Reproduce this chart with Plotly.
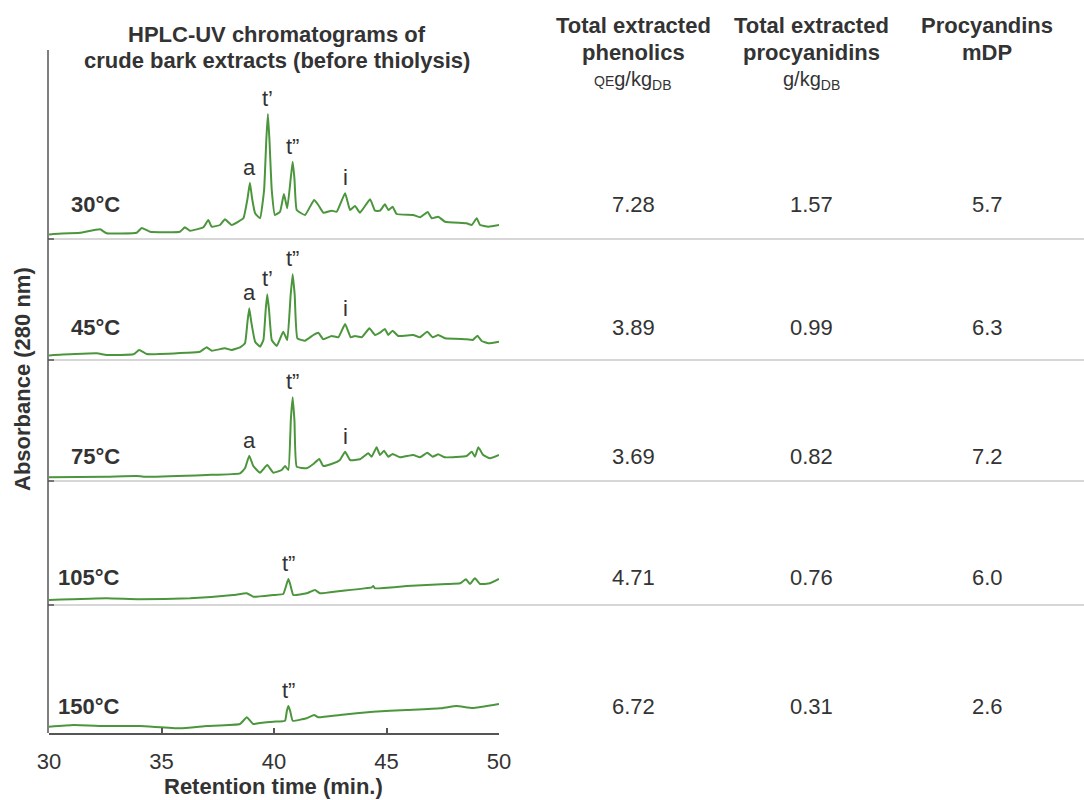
import plotly.graph_objects as go

# ---------------- data ----------------
temperatures = ["30°C", "45°C", "75°C", "105°C", "150°C"]

t_30 = [30.0, 30.19, 31.38, 32.27, 32.56, 33.9, 34.12, 34.49, 35.82, 36.04, 36.27, 36.86, 37.08, 37.23,
        37.6, 37.82, 38.12, 38.41, 38.64, 38.82, 38.93, 39.03, 39.16, 39.38, 39.56, 39.66, 39.73, 39.8,
        39.9, 40.04, 40.27, 40.44, 40.59, 40.74, 40.83, 40.91, 41.01, 41.38, 41.78, 41.97, 42.19, 42.56,
        42.79, 43.16, 43.38, 43.6, 43.82, 44.27, 44.49, 44.71, 44.93, 45.08, 45.27, 45.45, 46.19, 46.49,
        46.83, 47.01, 47.3, 47.6, 48.56, 48.79, 49.01, 49.16, 49.53, 50.0]
a_30 = [4.5, 5, 6.3, 9.7, 5.7, 6.3, 11, 7.3, 7.3, 11.7, 8.3, 11.7, 19, 12.3,
        14, 19.7, 14, 17.3, 20.7, 40, 56.3, 40, 25.7, 20.7, 49, 100, 125, 98,
        49, 24, 27.3, 45, 30.7, 60, 77.3, 60, 29, 24, 39, 34, 26.3, 28.3,
        27.3, 45.7, 29, 33, 26.3, 39.7, 28.3, 28.3, 34.7, 29, 32.3, 25, 24, 21.7,
        27, 20.7, 22.3, 17.3, 15.7, 14, 20.7, 14, 12.3, 14]

t_45 = [30.0, 30.19, 32.12, 32.56, 33.75, 34.01, 34.34, 36.12, 36.71, 37.01, 37.23, 37.82, 38.12, 38.49,
        38.71, 38.82, 38.9, 38.99, 39.16, 39.38, 39.53, 39.63, 39.7, 39.78, 39.9, 40.12, 40.41, 40.59,
        40.74, 40.83, 40.92, 41.04, 41.38, 41.75, 41.97, 42.19, 42.56, 42.86, 43.16, 43.41, 43.6, 43.9,
        44.24, 44.49, 44.71, 44.93, 45.08, 45.27, 45.52, 46.19, 46.49, 46.81, 47.05, 47.3, 47.6, 48.56,
        48.83, 49.04, 49.23, 49.53, 50.0]
a_45 = [4.5, 5, 6.7, 5, 5.7, 10, 6, 7.3, 8.3, 12.7, 9.3, 11.7, 10, 12.7,
        16.7, 38, 51.7, 38, 18.3, 13.3, 20, 50, 65.7, 50, 20, 14, 28.3, 20,
        65, 85.7, 65, 21.7, 19.3, 25, 27.3, 20.7, 24, 22.7, 36, 22.7, 24, 22.7,
        31.7, 25, 27.3, 31, 25, 29.3, 24, 25, 22.7, 28.3, 22.7, 25, 21.7, 20.7,
        20, 24.3, 19, 16.7, 18.3]

t_75 = [30.0, 32.56, 33.9, 34.2, 37.01, 38.49, 38.71, 38.9, 39.08, 39.38, 39.7, 39.97, 40.34, 40.49,
        40.64, 40.75, 40.83, 40.91, 41.01, 41.45, 41.75, 42.01, 42.19, 42.64, 42.93, 43.16, 43.38, 43.82,
        44.19, 44.34, 44.56, 44.71, 44.89, 45.08, 45.27, 45.6, 46.19, 46.49, 46.81, 47.05, 47.3, 47.6,
        48.56, 48.79, 48.93, 49.08, 49.3, 49.6, 50.0]
a_75 = [3.7, 4.3, 5, 4.3, 6, 7.7, 12.7, 25.3, 15, 8.3, 16, 8.3, 11, 15,
        11, 62, 83.7, 60, 14.3, 12.7, 17, 22, 15, 17.7, 21, 29.3, 21, 21.7,
        27.7, 24.3, 33.7, 26, 30.3, 24.3, 27, 23.7, 26, 23.7, 28.3, 24.3, 26.7, 23.7,
        25, 29.3, 24.3, 33.7, 26, 22.7, 26]

t_105 = [30.0, 32.56, 34.0, 36.27, 38.19, 38.79, 39.08, 39.97, 40.41, 40.55, 40.64, 40.73, 40.86, 41.45,
         41.82, 42.04, 42.93, 44.34, 44.41, 44.49, 45.9, 47.67, 48.27, 48.53, 48.71, 48.93, 49.16, 49.6,
         50.0]
a_105 = [5, 6.7, 5.7, 6.7, 10, 11.7, 8.3, 10, 11, 20, 26, 20, 10, 11.7,
         15, 11.7, 14, 17.7, 19, 16.7, 19, 21, 21.7, 25.7, 21, 26.7, 21, 21.7,
         26]

t_150 = [30.0, 31.08, 32.56, 34.04, 35.82, 37.01, 38.49, 38.79, 39.08, 39.38, 39.97, 40.49, 40.57, 40.64,
         40.72, 40.83, 41.45, 41.78, 41.97, 42.93, 44.41, 45.9, 47.38, 48.12, 48.82, 50.0]
a_150 = [6.3, 8, 7, 7, 4.7, 7, 9, 15.7, 9, 10, 11.3, 12.3, 22, 27,
         22, 12.3, 14.7, 18, 15.7, 18, 21.3, 23, 24.7, 27, 25, 29]

peak_labels = [
    [("a", 38.93), ("t’", 39.73), ("t”", 40.83), ("i", 43.16)],
    [("a", 38.9), ("t’", 39.7), ("t”", 40.83), ("i", 43.16)],
    [("a", 38.9), ("t”", 40.83), ("i", 43.16)],
    [("t”", 40.64)],
    [("t”", 40.64)],
]

phenolics = [7.28, 3.89, 3.69, 4.71, 6.72]
procyanidins = [1.57, 0.99, 0.82, 0.76, 0.31]
mdp = [5.7, 6.3, 7.2, 6.0, 2.6]

x_ticks = [30, 35, 40, 45, 50]

series_t = [t_30, t_45, t_75, t_105, t_150]
series_a = [a_30, a_45, a_75, a_105, a_150]

# ---------------- layout helpers (pixels) ----------------
W, H = 1084, 800
L, R, T, B = 49, 499, 50, 733
row_bounds = [(50, 239), (239, 360), (360, 481), (481, 605), (605, 733)]
row_label_y = [205, 327, 456, 577, 706]
col_x = [633, 811, 987]

def px(x):
    return (x - L) / (R - L)

def py(y):
    return (B - y) / (B - T)

FONT = "Liberation Sans, Arial, Helvetica, sans-serif"
FS = 22
TXT = "#333333"
GREEN = "#4b963c"

fig = go.Figure()
for i in range(5):
    yname = "y" if i == 0 else f"y{i+1}"
    fig.add_trace(go.Scatter(x=series_t[i], y=series_a[i], mode="lines",
                             line=dict(color=GREEN, width=2, shape="spline", smoothing=0.35),
                             xaxis="x", yaxis=yname, showlegend=False, hoverinfo="skip"))

layout = dict(
    width=W, height=H,
    margin=dict(l=L, r=W - R, t=T, b=H - B, pad=0),
    paper_bgcolor="white", plot_bgcolor="white",
    font=dict(family=FONT, size=FS, color=TXT),
    xaxis=dict(domain=[0, 1], range=[30, 50], anchor="y5", tickvals=x_ticks,
               ticks="inside", ticklen=5, tickwidth=1.5, tickcolor="#555555",
               showline=True, linecolor="#555555", linewidth=1.5,
               showgrid=False, zeroline=False, ticklabelstandoff=8,
               tickfont=dict(size=FS, color=TXT)),
)
for i, (top, bot) in enumerate(row_bounds):
    key = "yaxis" if i == 0 else f"yaxis{i+1}"
    layout[key] = dict(domain=[py(bot), py(top)], range=[0, bot - top], visible=False,
                       anchor="x", fixedrange=True)
fig.update_layout(**layout)

shapes = []
# row separators
for (top, bot) in row_bounds[:-1]:
    shapes.append(dict(type="line", xref="paper", yref="paper", x0=px(48), x1=px(1084),
                       y0=py(bot), y1=py(bot), line=dict(color="#c8c8c8", width=1.5)))
    shapes.append(dict(type="line", xref="paper", yref="paper", x0=px(48), x1=px(54),
                       y0=py(bot), y1=py(bot), line=dict(color="#555555", width=1.5)))
# left axis
shapes.append(dict(type="line", xref="paper", yref="paper", x0=px(48), x1=px(48),
                   y0=py(50), y1=py(B), line=dict(color="#555555", width=1.5)))
fig.update_layout(shapes=shapes)

ann = []
# titles
ann.append(dict(text="<b>HPLC-UV chromatograms of</b>", x=px(277), y=py(34)))
ann.append(dict(text="<b>crude bark extracts (before thiolysis)</b>", x=px(277), y=py(61)))
heads = [("Total extracted", "phenolics", "<span style='font-size:14px'>QE</span>g/kg<sub>DB</sub>"),
         ("Total extracted", "procyanidins", "g/kg<sub>DB</sub>"),
         ("Procyandins", "mDP", "")]
for cx, (h1, h2, h3) in zip(col_x, heads):
    ann.append(dict(text=f"<b>{h1}</b>", x=px(cx), y=py(25)))
    ann.append(dict(text=f"<b>{h2}</b>", x=px(cx), y=py(53)))
    if h3:
        ann.append(dict(text=h3, x=px(cx), y=py(81), font=dict(size=20)))
# axis titles
ann.append(dict(text="<b>Retention time (min.)</b>", x=px(273), y=py(786)))
ann.append(dict(text="<b>Absorbance (280 nm)</b>", x=px(22), y=py(379), textangle=-90))
# row labels and table values
for i in range(5):
    yy = py(row_label_y[i])
    ann.append(dict(text=f"<b>{temperatures[i]}</b>", x=px(122), y=yy, xanchor="right"))
    ann.append(dict(text=f"{phenolics[i]:.2f}", x=px(col_x[0]), y=yy))
    ann.append(dict(text=f"{procyanidins[i]:.2f}", x=px(col_x[1]), y=yy))
    ann.append(dict(text=f"{mdp[i]:.1f}", x=px(col_x[2]), y=yy))
for a in ann:
    a.setdefault("xref", "paper")
    a.setdefault("yref", "paper")
    a.setdefault("xanchor", "center")
    a.setdefault("yanchor", "middle")
    a.setdefault("showarrow", False)
    a.setdefault("font", dict(size=FS))

# peak labels placed above the local maximum of each trace
for i in range(5):
    yname = "y" if i == 0 else f"y{i+1}"
    ts, vs = series_t[i], series_a[i]
    for lab, tp in peak_labels[i]:
        near = [v for t, v in zip(ts, vs) if abs(t - tp) <= 0.12]
        top = max(near)
        ann.append(dict(text=lab, x=tp, y=top, xref="x", yref=yname, xanchor="center",
                        yanchor="bottom", yshift=1, showarrow=False, font=dict(size=FS)))

fig.update_layout(annotations=ann)
fig.write_html("out.html")
